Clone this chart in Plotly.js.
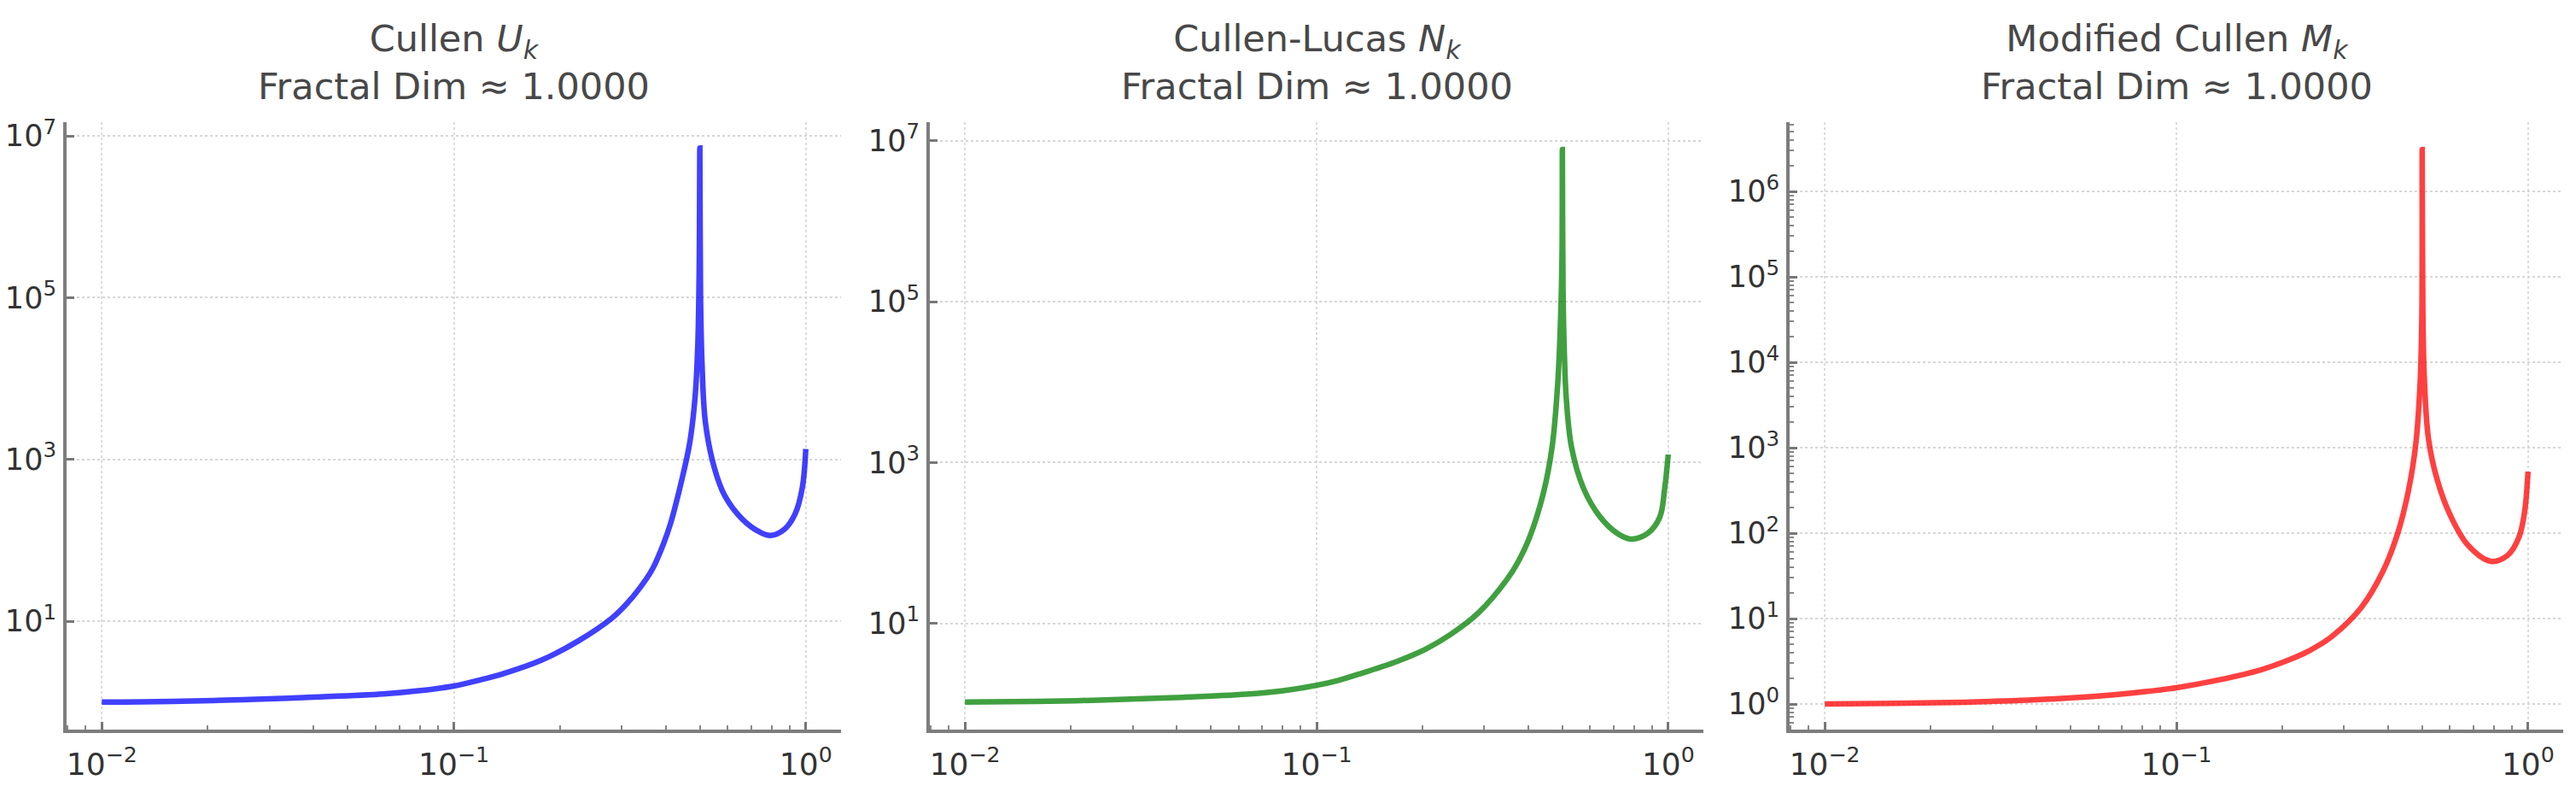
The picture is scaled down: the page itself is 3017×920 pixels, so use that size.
<!DOCTYPE html>
<html>
<head>
<meta charset="utf-8">
<script src="https://cdn.plot.ly/plotly-3.0.1.min.js"></script>
<style>
  html, body { margin: 0; padding: 0; background: #ffffff; }
  #wykres { width: 3017px; height: 920px; }
</style>
</head>
<body>
<div id="wykres"></div>
<script>
// --- 1. DANE ---
const cullenX = [0.0100, 0.0158, 0.0251, 0.0398, 0.0631, 0.0794, 0.1000, 0.1175, 0.1380, 0.1778,
    0.2265, 0.2818, 0.3090, 0.3388, 0.3673, 0.3936, 0.4121, 0.4416, 0.4677, 0.4842,
    0.4932, 0.4977, 0.5000, 0.5023, 0.5070, 0.5188, 0.5495, 0.5888, 0.6607, 0.7413,
    0.7943, 0.8710, 0.9333, 0.9772, 1.0000];
const cullenU = [1.00, 1.02, 1.07, 1.15, 1.26, 1.38, 1.58, 1.86, 2.24, 3.31,
    5.75, 11.0, 16.2, 26.3, 44.7, 89.1, 158, 501, 1585, 5623,
    25119, 199526, 7.08e6, 100000, 15849, 2818, 794, 355, 182, 126,
    115, 138, 214, 447, 1349];

const lucasX = [0.0100, 0.0158, 0.0251, 0.0398, 0.0631, 0.0794, 0.1000, 0.1148, 0.1318, 0.1698,
    0.2042, 0.2399, 0.2884, 0.3483, 0.3758, 0.4027, 0.4416, 0.4677, 0.4853, 0.4943,
    0.4989, 0.5000, 0.5023, 0.5070, 0.5129, 0.5309, 0.5741, 0.6412, 0.7161, 0.7834,
    0.8750, 0.9462, 0.9772, 1.0000];
const lucasN = [1.05, 1.07, 1.12, 1.20, 1.32, 1.45, 1.70, 1.95, 2.34, 3.39,
    4.79, 7.24, 13.5, 35.5, 60.3, 115, 417, 1585, 10000, 63096,
    398107, 7.76e6, 125893, 19953, 6310, 1549, 479, 209, 132, 112,
    132, 209, 479, 1259];

const modX = [0.0100, 0.0158, 0.0251, 0.0398, 0.0631, 0.0794, 0.1000, 0.1318, 0.1738, 0.2042,
    0.2301, 0.2477, 0.2767, 0.3342, 0.3864, 0.4246, 0.4571, 0.4797, 0.4932, 0.4989,
    0.5000, 0.5023, 0.5070, 0.5212, 0.5521, 0.6039, 0.6745, 0.7834, 0.8750, 0.9419,
    0.9772, 1.0000];
const modM = [1.00, 1.02, 1.05, 1.12, 1.26, 1.38, 1.55, 1.91, 2.51, 3.16,
    3.89, 4.57, 6.17, 13.2, 35.5, 95.5, 316, 1122, 5623, 34674,
    3.09e6, 39811, 6607, 1259, 417, 155, 72.4, 46.8, 55.0, 89.1,
    174, 525];

// --- etykiety osi ---
const xTickVals = [0.01, 0.1, 1];
const xTickText = ["10<sup>\u22122</sup>", "10<sup>\u22121</sup>", "10<sup>0</sup>"];
const xMinorVals = [0.008, 0.009, 0.02, 0.03, 0.04, 0.05, 0.06, 0.07, 0.08, 0.09,
    0.2, 0.3, 0.4, 0.5, 0.6, 0.7, 0.8, 0.9];

const yTickValsOdd = [10, 1e3, 1e5, 1e7];
const yTickTextOdd = ["10<sup>1</sup>", "10<sup>3</sup>", "10<sup>5</sup>", "10<sup>7</sup>"];

const yTickValsAll = [1, 10, 100, 1e3, 1e4, 1e5, 1e6];
const yTickTextAll = ["10<sup>0</sup>", "10<sup>1</sup>", "10<sup>2</sup>", "10<sup>3</sup>",
    "10<sup>4</sup>", "10<sup>5</sup>", "10<sup>6</sup>"];
const yMinorVals = [0.5, 0.6, 0.7, 0.8, 0.9,
    2, 3, 4, 5, 6, 7, 8, 9, 20, 30, 40, 50, 60, 70, 80, 90,
    200, 300, 400, 500, 600, 700, 800, 900, 2e3, 3e3, 4e3, 5e3, 6e3, 7e3, 8e3, 9e3,
    2e4, 3e4, 4e4, 5e4, 6e4, 7e4, 8e4, 9e4, 2e5, 3e5, 4e5, 5e5, 6e5, 7e5, 8e5, 9e5,
    2e6, 3e6, 4e6, 5e6, 6e6];

const tytuly = [
    "Cullen <i>U<sub>k</sub></i><br>Fractal Dim \u2248 1.0000",
    "Cullen-Lucas <i>N<sub>k</sub></i><br>Fractal Dim \u2248 1.0000",
    "Modified Cullen <i>M<sub>k</sub></i><br>Fractal Dim \u2248 1.0000"
];

// --- 2. POMOCNICZE ---
const W = 3017, H = 920;
const FONT = "DejaVu Sans, Verdana, sans-serif";

// obszary wykresów w pikselach (lewo, prawo)
const panele = [[78, 985], [1089, 1995], [2096, 3002]];
const gora = 143, dol = 854;

function domenaX(p) {
    return [p[0] / W, p[1] / W];
}

function osX(p, anchor) {
    return {
        type: "log",
        domain: domenaX(p),
        anchor: anchor,
        range: [-2.1, 0.1],
        tickmode: "array",
        tickvals: xTickVals,
        ticktext: xTickText,
        ticks: "inside",
        ticklen: 9,
        tickwidth: 3,
        tickcolor: "#777",
        ticklabelstandoff: 6,
        minor: { tickmode: "array", tickvals: xMinorVals, ticks: "inside", ticklen: 5, tickwidth: 2, tickcolor: "#888" },
        showline: true,
        linecolor: "#7d7d7d",
        linewidth: 4,
        showgrid: true,
        gridcolor: "#dcdcdc",
        gridwidth: 2,
        griddash: "dot",
        zeroline: false,
        tickfont: { family: FONT, size: 36, color: "#333333" }
    };
}

function osY(anchor, zakres, vals, text, minor) {
    const os = {
        type: "log",
        domain: [1 - dol / H, 1 - gora / H],
        anchor: anchor,
        range: zakres,
        tickmode: "array",
        tickvals: vals,
        ticktext: text,
        ticks: "inside",
        ticklen: 9,
        tickwidth: 3,
        tickcolor: "#777",
        ticklabelstandoff: 1,
        showline: true,
        linecolor: "#7d7d7d",
        linewidth: 4,
        showgrid: true,
        gridcolor: "#d6d6d6",
        gridwidth: 2,
        griddash: "dot",
        zeroline: false,
        tickfont: { family: FONT, size: 35, color: "#333333" }
    };
    if (minor) {
        os.minor = { tickmode: "array", tickvals: minor, ticks: "inside", ticklen: 5, tickwidth: 2, tickcolor: "#888" };
    }
    return os;
}

function seria(x, y, kolor, xa, ya) {
    return {
        x: x,
        y: y,
        xaxis: xa,
        yaxis: ya,
        type: "scatter",
        mode: "lines",
        line: { color: kolor, width: 6.5, shape: "spline", smoothing: 1 },
        hoverinfo: "skip",
        showlegend: false
    };
}

// --- 3. WYKRES ---
const data = [
    seria(cullenX, cullenU, "rgba(0,0,255,0.75)", "x", "y"),
    seria(lucasX, lucasN, "rgba(0,128,0,0.75)", "x2", "y2"),
    seria(modX, modM, "rgba(255,0,0,0.75)", "x3", "y3")
];

const layout = {
    width: W,
    height: H,
    margin: { l: 0, r: 0, t: 0, b: 0 },
    paper_bgcolor: "#ffffff",
    plot_bgcolor: "#ffffff",
    showlegend: false,
    xaxis: osX(panele[0], "y"),
    yaxis: osY("x", [-0.34, 7.17], yTickValsOdd, yTickTextOdd),
    xaxis2: osX(panele[1], "y2"),
    yaxis2: osY("x2", [-0.32, 7.23], yTickValsOdd, yTickTextOdd),
    xaxis3: osX(panele[2], "y3"),
    yaxis3: osY("x3", [-0.30, 6.81], yTickValsAll, yTickTextAll, yMinorVals),
    annotations: panele.map((p, i) => ({
        xref: "paper",
        yref: "paper",
        x: (p[0] + p[1]) / 2 / W,
        y: 1 - 128 / H,
        xanchor: "center",
        yanchor: "bottom",
        showarrow: false,
        align: "center",
        text: tytuly[i],
        font: { family: FONT, size: 43, color: "#484848" }
    }))
};

Plotly.newPlot("wykres", data, layout, { displayModeBar: false, staticPlot: true });
</script>
</body>
</html>
